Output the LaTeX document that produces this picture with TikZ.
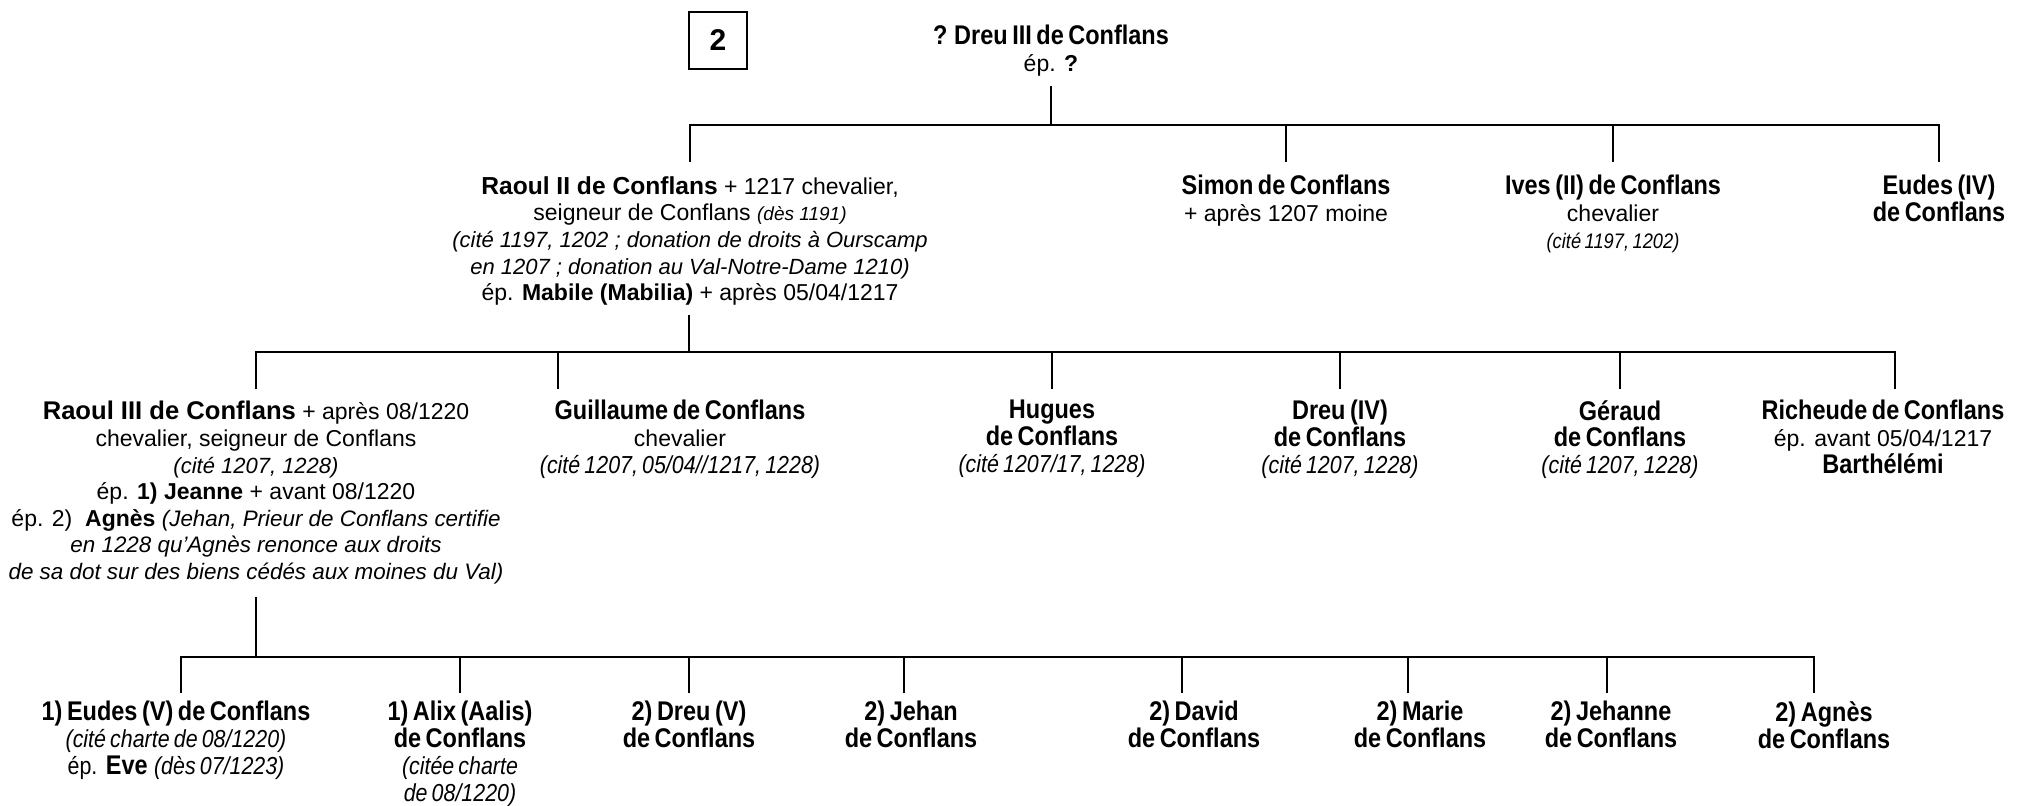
\documentclass[tikz,border=0pt]{standalone}
\usepackage{fontspec}
\setmainfont{Liberation Sans}
\newfontfamily\condfont[FakeStretch=0.87,WordSpace=0.7]{Liberation Sans}
\newcommand\NB[1]{{\condfont\bfseries\fontsize{13.5}{13.5}\selectfont #1}}
\newcommand\CI[1]{{\condfont\itshape\fontsize{12.3}{13.5}\selectfont #1}}
\newcommand\CIs[1]{{\condfont\itshape\fontsize{10.5}{13.5}\selectfont #1}}
\newcommand\CR[1]{{\condfont\fontsize{12.3}{13.5}\selectfont #1}}
\newcommand\IT[1]{{\itshape\fontsize{11}{13.5}\selectfont #1}}
\newcommand\ITm[1]{{\itshape\fontsize{11.2}{13.5}\selectfont #1}}
\newcommand\ITs[1]{{\itshape\fontsize{9.5}{13.5}\selectfont #1}}
\newcommand\BL[1]{{\bfseries\fontsize{12.3}{13.5}\selectfont #1}}
\newcommand\BX[1]{{\bfseries\fontsize{12.8}{13.5}\selectfont #1}}
\begin{document}
\begin{tikzpicture}[x=0.5pt,y={(0,-0.5pt)},
  tree/.style={line width=1.4pt},
  person/.style={align=center,inner sep=0pt,anchor=north,font=\fontsize{11.5}{13.3}\selectfont},
  leaf/.style={person,font=\fontsize{11.5}{13.4}\selectfont},
  numbox/.style={draw,line width=0.6pt,minimum width=29pt,minimum height=28.5pt,inner sep=0pt,font=\bfseries\fontsize{15}{15}\selectfont}]
\fill[white] (0,0) rectangle (2024,805);
\useasboundingbox (0,0) rectangle (2024,805);

% ---------- generation 1
\node[numbox] (num) at (718,40.5) {2};
\node[person] (dreu3) at (1051,25) {\NB{? Dreu III de Conflans}\\ép. \textbf{?}};

% ---------- generation 2
\node[person] (raoul2) at (690,176) {\BL{Raoul II de Conflans} + 1217 chevalier,\\
  seigneur de Conflans \ITs{(dès 1191)}\\
  \IT{(cité 1197, 1202 ; donation de droits à Ourscamp}\\
  \IT{en 1207 ; donation au Val-Notre-Dame 1210)}\\
  ép. \textbf{Mabile (Mabilia)} + après 05/04/1217};
\node[person] (simon) at (1286,175) {\NB{Simon de Conflans}\\+ après 1207 moine};
\node[person] (ives) at (1613,175) {\NB{Ives (II) de Conflans}\\chevalier\\\CIs{(cité 1197, 1202)}};
\node[person] (eudes4) at (1939,175) {\NB{Eudes (IV)}\\\NB{de Conflans}};

% ---------- generation 3
\node[person] (raoul3) at (256,401) {\BX{Raoul III de Conflans} + après 08/1220\\
  chevalier, seigneur de Conflans\\
  \IT{(cité 1207, 1228)}\\
  ép. \textbf{1) Jeanne} + avant 08/1220\\
  ép. 2)\ \ \textbf{Agnès} \ITm{(Jehan, Prieur de Conflans certifie}\\
  \ITm{en 1228 qu’Agnès renonce aux droits}\\
  \ITm{de sa dot sur des biens cédés aux moines du Val)}};
\node[person] (guillaume) at (680,400) {\NB{Guillaume de Conflans}\\chevalier\\\CI{(cité 1207, 05/04//1217, 1228)}};
\node[person] (hugues) at (1052,400) {\NB{Hugues}\\\NB{de Conflans}\\\CI{(cité 1207/17, 1228)}};
\node[person] (dreu4) at (1340,400) {\NB{Dreu (IV)}\\\NB{de Conflans}\\\CI{(cité 1207, 1228)}};
\node[person] (geraud) at (1620,400) {\NB{Géraud}\\\NB{de Conflans}\\\CI{(cité 1207, 1228)}};
\node[person] (richeude) at (1883,400) {\NB{Richeude de Conflans}\\ép. avant 05/04/1217\\\NB{Barthélémi}};

% ---------- generation 4
\node[leaf] (eudes5) at (176,701) {\NB{1) Eudes (V) de Conflans}\\\CI{(cité charte de 08/1220)}\\\CR{ép.} \NB{Eve} \CI{(dès 07/1223)}};
\node[leaf] (alix) at (460,701) {\NB{1) Alix (Aalis)}\\\NB{de Conflans}\\\CI{(citée charte}\\\CI{de 08/1220)}};
\node[leaf] (dreu5) at (689,701) {\NB{2) Dreu (V)}\\\NB{de Conflans}};
\node[leaf] (jehan) at (911,701) {\NB{2) Jehan}\\\NB{de Conflans}};
\node[leaf] (david) at (1194,701) {\NB{2) David}\\\NB{de Conflans}};
\node[leaf] (marie) at (1420,701) {\NB{2) Marie}\\\NB{de Conflans}};
\node[leaf] (jehanne) at (1611,701) {\NB{2) Jehanne}\\\NB{de Conflans}};
\node[leaf] (agnes) at (1824,701) {\NB{2) Agnès}\\\NB{de Conflans}};

% ---------- connectors
\coordinate (s0) at (1051,86);
\coordinate (j0) at (1051,125);
\coordinate (t-raoul2) at (690,162);
\coordinate (t-simon) at (1286,162);
\coordinate (t-ives) at (1613,162);
\coordinate (t-eudes4) at (1939,162);
\draw[tree] (s0) -- (j0);
\draw[tree] (t-raoul2) |- (j0) -| (t-eudes4);
\draw[tree] (t-simon) -- (t-simon |- j0);
\draw[tree] (t-ives) -- (t-ives |- j0);

\coordinate (s1) at (689,315);
\coordinate (j1) at (689,352);
\coordinate (t-raoul3) at (256,389);
\coordinate (t-guillaume) at (558,389);
\coordinate (t-hugues) at (1052,389);
\coordinate (t-dreu4) at (1340,389);
\coordinate (t-geraud) at (1620,389);
\coordinate (t-richeude) at (1895,389);
\draw[tree] (s1) -- (j1);
\draw[tree] (t-raoul3) |- (j1) -| (t-richeude);
\foreach \t in {guillaume,hugues,dreu4,geraud} \draw[tree] (t-\t) -- (t-\t |- j1);

\coordinate (s2) at (256,597);
\coordinate (j2) at (256,657);
\coordinate (t-eudes5) at (181,693);
\coordinate (t-alix) at (460,693);
\coordinate (t-dreu5) at (689,693);
\coordinate (t-jehan) at (904,693);
\coordinate (t-david) at (1182,693);
\coordinate (t-marie) at (1408,693);
\coordinate (t-jehanne) at (1607,693);
\coordinate (t-agnes) at (1814,693);
\draw[tree] (s2) -- (j2);
\draw[tree] (t-eudes5) |- (j2) -| (t-agnes);
\foreach \t in {alix,dreu5,jehan,david,marie,jehanne} \draw[tree] (t-\t) -- (t-\t |- j2);
\end{tikzpicture}
\end{document}
